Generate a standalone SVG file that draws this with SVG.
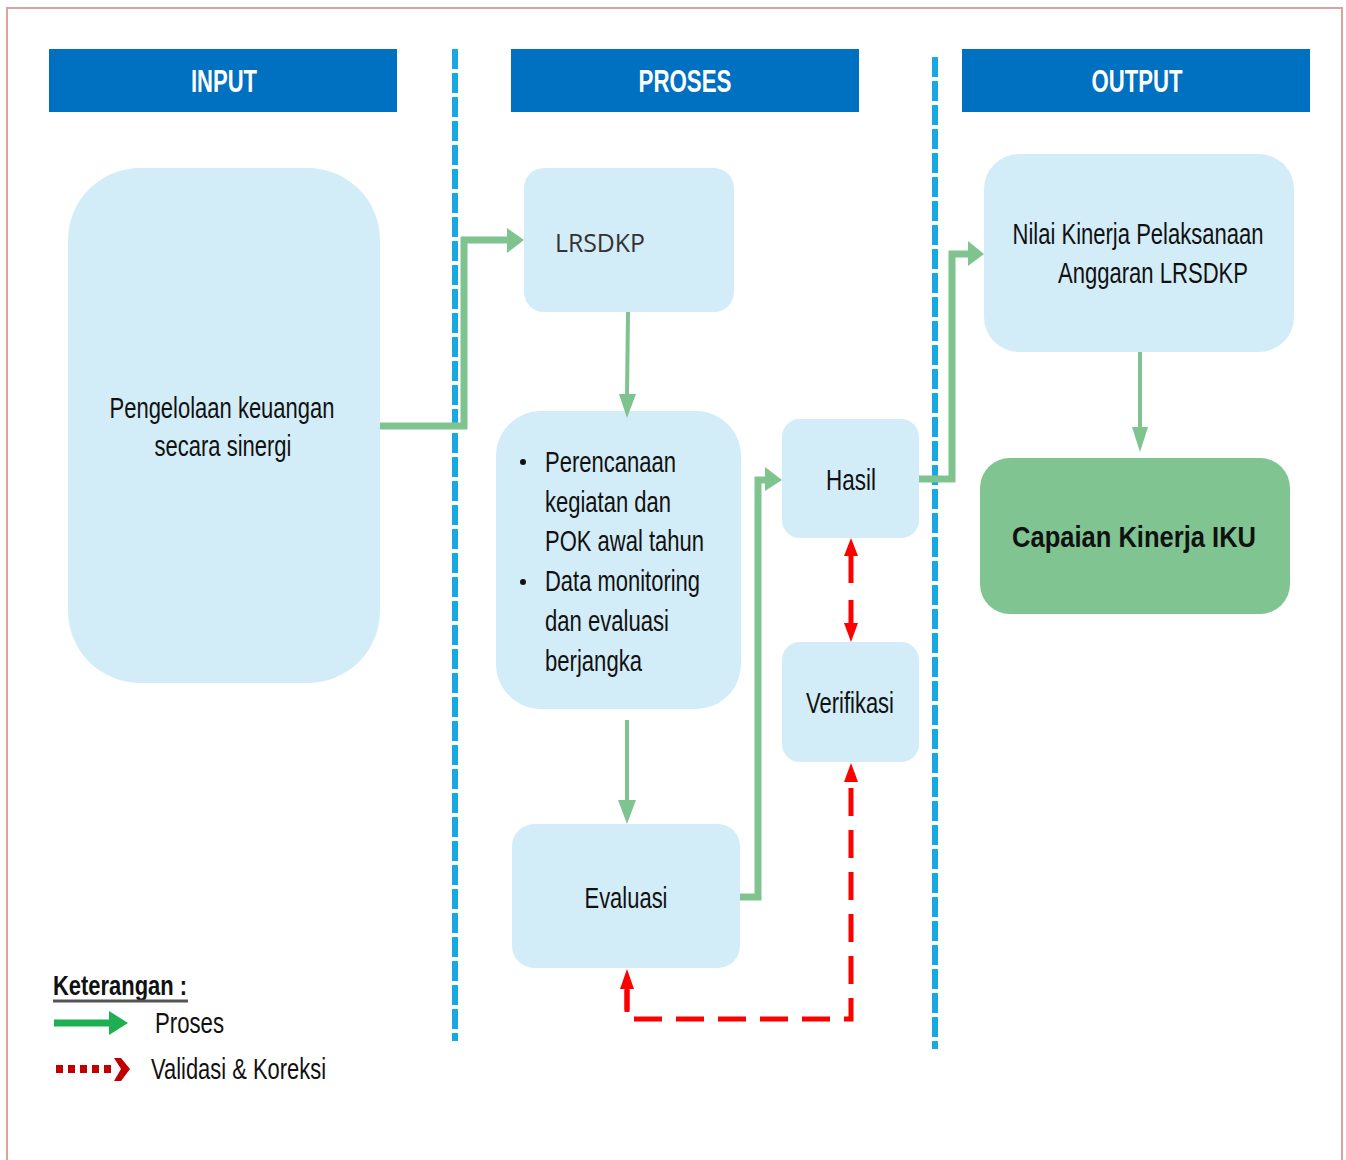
<svg xmlns="http://www.w3.org/2000/svg" width="1346" height="1160" viewBox="0 0 1346 1160">
<defs>
<style>
.hdr{fill:#0070C0}
.hdrt{fill:#fff;font-family:"Liberation Sans Narrow","Liberation Sans",Arial,sans-serif;font-weight:bold;font-size:31px;text-anchor:middle}
.node{fill:#D3EDF8}
.t{fill:#111;font-family:"Liberation Sans Narrow","Liberation Sans",Arial,sans-serif;font-size:29px}
.c{text-anchor:middle}
.sep{stroke:#1AA8E2;stroke-width:6;stroke-dasharray:20 4;fill:none}
.g{stroke:#7FC48F;stroke-width:7;fill:none}
.g4{stroke:#7FC48F;stroke-width:4;fill:none}
.gh{fill:#7FC48F}
.r{stroke:#FF0000;stroke-width:5;fill:none}
.rh{fill:#FF0000}
</style>
</defs>
<rect x="0" y="0" width="1346" height="1160" fill="#fff"/>
<path d="M7,1160 V8 H1342 V1160" fill="none" stroke="#E0A0A0" stroke-width="2"/>

<g id="headers">
<g id="h-input"><rect class="hdr" x="49" y="49" width="348" height="63"/><text class="hdrt" x="224" y="92" textLength="66" lengthAdjust="spacingAndGlyphs">INPUT</text></g>
<g id="h-proses"><rect class="hdr" x="511" y="49" width="348" height="63"/><text class="hdrt" x="685" y="92" textLength="93" lengthAdjust="spacingAndGlyphs">PROSES</text></g>
<g id="h-output"><rect class="hdr" x="962" y="49" width="348" height="63"/><text class="hdrt" x="1137" y="92" textLength="91" lengthAdjust="spacingAndGlyphs">OUTPUT</text></g>
</g>

<g id="separators">
<line class="sep" x1="455" y1="49" x2="455" y2="1041"/>
<line class="sep" x1="935" y1="57" x2="935" y2="1049"/>
</g>

<g id="n-input"><rect class="node" x="68" y="168" width="312" height="515" rx="72"/>
<text class="t c" x="222" y="418" textLength="225" lengthAdjust="spacingAndGlyphs">Pengelolaan keuangan</text>
<text class="t c" x="223" y="456" textLength="137" lengthAdjust="spacingAndGlyphs">secara sinergi</text>
</g>
<g id="n-lrsdkp"><rect class="node" x="524" y="168" width="210" height="144" rx="20"/>
<text x="555" y="252" fill="#333" font-family="'Open Sans','Liberation Sans',sans-serif" font-size="26" textLength="90" lengthAdjust="spacingAndGlyphs">LRSDKP</text>
</g>
<g id="n-plan"><rect class="node" x="496" y="411" width="245" height="298" rx="45"/>
<circle cx="523" cy="462" r="3" fill="#111"/>
<circle cx="523" cy="582" r="3" fill="#111"/>
<text class="t" x="545" y="472" textLength="131" lengthAdjust="spacingAndGlyphs">Perencanaan</text>
<text class="t" x="545" y="512" textLength="126" lengthAdjust="spacingAndGlyphs">kegiatan dan</text>
<text class="t" x="545" y="551" textLength="159" lengthAdjust="spacingAndGlyphs">POK awal tahun</text>
<text class="t" x="545" y="591" textLength="155" lengthAdjust="spacingAndGlyphs">Data monitoring</text>
<text class="t" x="545" y="631" textLength="124" lengthAdjust="spacingAndGlyphs">dan evaluasi</text>
<text class="t" x="545" y="671" textLength="97" lengthAdjust="spacingAndGlyphs">berjangka</text>
</g>
<g id="n-evaluasi"><rect class="node" x="512" y="824" width="228" height="144" rx="22"/>
<text class="t c" x="626" y="908" textLength="83" lengthAdjust="spacingAndGlyphs">Evaluasi</text>
</g>
<g id="n-hasil"><rect class="node" x="782" y="419" width="137" height="119" rx="18"/>
<text class="t c" x="851" y="490" textLength="50" lengthAdjust="spacingAndGlyphs">Hasil</text>
</g>
<g id="n-verifikasi"><rect class="node" x="782" y="642" width="137" height="120" rx="18"/>
<text class="t c" x="850" y="713" textLength="88" lengthAdjust="spacingAndGlyphs">Verifikasi</text>
</g>
<g id="n-nilai"><rect class="node" x="984" y="154" width="310" height="198" rx="35"/>
<text class="t c" x="1138" y="244" textLength="251" lengthAdjust="spacingAndGlyphs">Nilai Kinerja Pelaksanaan</text>
<text class="t c" x="1153" y="283" textLength="190" lengthAdjust="spacingAndGlyphs">Anggaran LRSDKP</text>
</g>
<g id="n-capaian"><rect x="980" y="458" width="310" height="156" rx="30" fill="#7FC491"/>
<text class="t c" x="1134" y="547" font-size="34" font-weight="bold" textLength="244" lengthAdjust="spacingAndGlyphs">Capaian Kinerja IKU</text>
</g>

<g id="connectors">
<path class="g" d="M380,426 H464 V240 H508"/>
<polygon class="gh" points="507,228 524,240 507,253"/>
<path class="g4" d="M628,312 L627,396"/>
<polygon class="gh" points="619,394 636,394 627,418"/>
<path class="g4" d="M627,720 V802"/>
<polygon class="gh" points="618,800 636,800 627,824"/>
<path class="g" d="M740,897 H758 V480 H767"/>
<polygon class="gh" points="765,467 782,480 765,491"/>
<path class="g" d="M919,479 H952 V254 H969"/>
<polygon class="gh" points="968,241 984,254 968,266"/>
<path class="g4" d="M1140,352 V430"/>
<polygon class="gh" points="1132,427 1148,427 1140,452"/>

<polygon class="rh" points="851,538 858,556 844,556"/>
<line class="r" x1="851" y1="554" x2="851" y2="583"/>
<line class="r" x1="851" y1="600" x2="851" y2="625"/>
<polygon class="rh" points="851,642 858,623 844,623"/>
<polygon class="rh" points="851,763 858,782 844,782"/>
<path class="r" d="M851,788 V1019 H627 V990" stroke-dasharray="28 14"/>
<line class="r" x1="627" y1="1010" x2="627" y2="986"/>
<polygon class="rh" points="627,969 634,989 620,989"/>
</g>

<g id="legend">
<text x="53" y="995" fill="#111" font-family="'Liberation Sans Narrow','Liberation Sans',Arial,sans-serif" font-size="28" font-weight="bold" textLength="134" lengthAdjust="spacingAndGlyphs">Keterangan :</text>
<line x1="53" y1="1001" x2="188" y2="1001" stroke="#555" stroke-width="3"/>
<line x1="54" y1="1023" x2="112" y2="1023" stroke="#1DB052" stroke-width="7"/>
<polygon points="109,1011 128,1023 109,1035" fill="#1DB052"/>
<text class="t" x="155" y="1033" textLength="69" lengthAdjust="spacingAndGlyphs">Proses</text>
<line x1="56" y1="1069" x2="116" y2="1069" stroke="#C00000" stroke-width="8" stroke-dasharray="7 5"/>
<polygon points="114,1058 121,1058 130,1069 121,1081 114,1081 121,1069" fill="#C00000"/>
<text class="t" x="151" y="1079" textLength="175" lengthAdjust="spacingAndGlyphs">Validasi &amp; Koreksi</text>
</g>
</svg>
